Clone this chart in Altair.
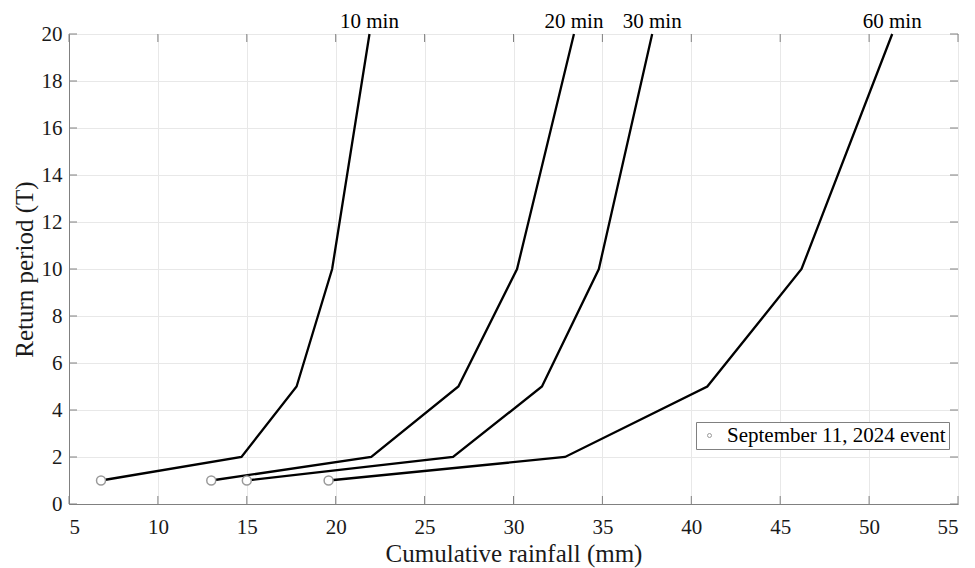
import altair as alt
import pandas as pd

# ---- data ----
durations = ["10 min", "20 min", "30 min", "60 min"]
return_periods = [1, 2, 5, 10, 20]
rain_10min = [6.8, 14.7, 17.8, 19.8, 21.9]
rain_20min = [13.0, 22.0, 26.9, 30.2, 33.4]
rain_30min = [15.0, 26.6, 31.6, 34.8, 37.8]
rain_60min = [19.6, 32.9, 40.9, 46.2, 51.3]

event_label = "September 11, 2024 event"
event_rain = [6.8, 13.0, 15.0, 19.6]
event_T = [1, 1, 1, 1]

x_ticks = [5, 10, 15, 20, 25, 30, 35, 40, 45, 50, 55]
y_ticks = [0, 2, 4, 6, 8, 10, 12, 14, 16, 18, 20]

# ---- tables ----
series = [rain_10min, rain_20min, rain_30min, rain_60min]
rows = []
for d, vals in zip(durations, series):
    for t, r in zip(return_periods, vals):
        rows.append({"duration": d, "T": t, "rain": r})
curves = pd.DataFrame(rows)
labels = pd.DataFrame({"duration": durations, "rain": [v[-1] for v in series]})
events = pd.DataFrame({"rain": event_rain, "T": event_T,
                       "event": [event_label] * len(event_rain)})
xt = pd.DataFrame({"rain": x_ticks})
yt = pd.DataFrame({"T": y_ticks})

W, H = 889, 470
FONT = "Liberation Serif"
AX = "#808080"
TICK = 8

x_scale = alt.Scale(domain=[5, 55], nice=False, zero=False)
y_scale = alt.Scale(domain=[0, 20], nice=False, zero=False)

x_axis = alt.Axis(values=x_ticks, title="Cumulative rainfall (mm)", grid=True,
                  ticks=False, labelPadding=12, format="d",
                  titleY=57, titleBaseline="alphabetic")
y_axis = alt.Axis(values=y_ticks, title="Return period (T)", grid=True,
                  ticks=False, labelPadding=7, titlePadding=4, format="d")

X = alt.X("rain:Q", scale=x_scale, axis=x_axis)
Y = alt.Y("T:Q", scale=y_scale, axis=y_axis)

lines = alt.Chart(curves).mark_line(color="black", strokeWidth=2.3).encode(
    x=X, y=Y, detail="duration:N", order="T:Q",
)

points = alt.Chart(events).mark_point(
    shape="circle", filled=False, fill="white", size=80, strokeWidth=1.5, opacity=1
).encode(
    x=X, y=Y,
    color=alt.Color(
        "event:N",
        scale=alt.Scale(range=["#9a9a9a"]),
        legend=alt.Legend(
            title=None, orient="none", legendX=627, legendY=388,
            symbolSize=16, symbolStrokeWidth=1, symbolFillColor="white",
            labelFont=FONT, labelFontSize=21, labelColor="black", labelLimit=0,
            strokeColor=AX, fillColor="white", padding=3, labelOffset=7,
        ),
    ),
)

tick_bottom = alt.Chart(xt).mark_rule(color=AX).encode(
    x=X, y=alt.value(H), y2=alt.value(H - TICK))
tick_top = alt.Chart(xt).mark_rule(color=AX).encode(
    x=X, y=alt.value(0), y2=alt.value(TICK))
tick_left = alt.Chart(yt).mark_rule(color=AX).encode(
    y=Y, x=alt.value(0), x2=alt.value(TICK))
tick_right = alt.Chart(yt).mark_rule(color=AX).encode(
    y=Y, x=alt.value(W), x2=alt.value(W - TICK))

texts = alt.Chart(labels).mark_text(
    font=FONT, fontSize=21, baseline="alphabetic", align="center", color="black"
).encode(
    x=X,
    y=alt.value(-6),
    text="duration:N",
)

chart = alt.layer(
    lines, points, tick_bottom, tick_top, tick_left, tick_right, texts
).properties(
    width=W, height=H,
    autosize=alt.AutoSizeParams(type="none"),
    padding={"left": 61, "top": 26, "right": 1, "bottom": 64},
).configure_view(
    stroke=AX, strokeWidth=1
).configure_axis(
    domainColor=AX, gridColor="#e8e8e8", gridWidth=1,
    labelFont=FONT, titleFont=FONT, labelFontSize=21, titleFontSize=25,
    titleFontWeight="normal", labelColor="#1a1a1a", titleColor="#1a1a1a",
)

chart.save("out.html", embed_options={"renderer": "svg", "actions": False})
